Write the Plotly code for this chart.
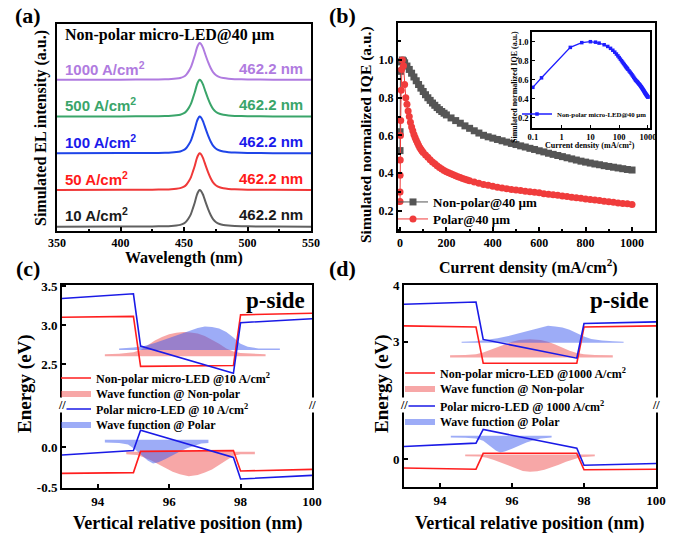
import plotly.graph_objects as go

W, H = 679, 535
SERIF = "Liberation Serif, Times New Roman, serif"
SANS = "Liberation Sans, Arial, sans-serif"

# ---------------- (a) simulated EL spectra ----------------
wavelength_nm = [350, 400, 425, 435, 440, 444, 447, 450, 452, 454, 455.5, 457, 458.5, 460, 461, 462.2,
                 463.5, 465, 467, 469, 471, 473, 475, 478, 481, 485, 490, 500, 520, 550]
el_intensity = [0.0, 0.004, 0.008, 0.013, 0.02, 0.033, 0.05, 0.09, 0.15, 0.25, 0.35, 0.5, 0.66, 0.85, 0.94,
                1.0, 0.97, 0.87, 0.67, 0.48, 0.32, 0.2, 0.13, 0.075, 0.048, 0.03, 0.018, 0.009, 0.003, 0.0]
el_current_labels = ["10 A/cm<sup>2</sup>", "50 A/cm<sup>2</sup>", "100 A/cm<sup>2</sup>",
                     "500 A/cm<sup>2</sup>", "1000 A/cm<sup>2</sup>"]
el_offsets = [0, 1, 2, 3, 4]
el_peak_labels = ["462.2 nm", "462.2 nm", "462.2 nm", "462.2 nm", "462.2 nm"]
el_line_colors = ["#606060", "#f03838", "#1f45e8", "#3aa56a", "#b07be0"]
el_text_colors = ["#1a1a1a", "#ff1a1a", "#1a1aeb", "#3aa56a", "#b07be0"]
wl_ticks = [350, 400, 450, 500, 550]

# ---------------- (b) normalized IQE ----------------
jd_nonpolar = [0.1, 0.2, 2, 5, 10, 15, 20, 30, 40, 50, 60, 70, 80, 90, 100, 110, 120, 130, 140, 150,
               160, 170, 180, 190, 200, 220, 240, 260, 280, 300, 320, 340, 360, 380, 400, 420, 440, 460,
               480, 500, 520, 540, 560, 580, 600, 620, 640, 660, 680, 700, 720, 740, 760, 780, 800, 820,
               840, 860, 880, 900, 920, 940, 960, 980, 1000]
iqe_nonpolar = [0.52, 0.62, 0.94, 0.99, 1.0, 0.995, 0.985, 0.968, 0.95, 0.93, 0.91, 0.89, 0.87, 0.851,
                0.833, 0.816, 0.80, 0.786, 0.772, 0.76, 0.748, 0.737, 0.727, 0.718, 0.709, 0.693, 0.679,
                0.665, 0.651, 0.638, 0.625, 0.613, 0.601, 0.593, 0.586, 0.579, 0.572, 0.565, 0.558, 0.552,
                0.545, 0.539, 0.532, 0.526, 0.519, 0.513, 0.506, 0.50, 0.494, 0.488, 0.482, 0.476, 0.47,
                0.464, 0.459, 0.454, 0.449, 0.445, 0.44, 0.436, 0.432, 0.428, 0.424, 0.42, 0.417]
jd_polar = [0.1, 0.2, 0.5, 1, 2, 3, 5, 7, 10, 15, 20, 25, 30, 35, 40, 45, 50, 55, 60, 65, 70, 75, 80,
            85, 90, 95, 100, 110, 120, 130, 140, 150, 160, 170, 180, 190, 200, 210, 220, 230, 240, 250,
            260, 270, 280, 290, 300, 320, 340, 360, 380, 400, 420, 440, 460, 480, 500, 520, 540, 560,
            580, 600, 620, 640, 660, 680, 700, 720, 740, 760, 780, 800, 820, 840, 860, 880, 900, 920,
            940, 960, 980, 1000]
iqe_polar = [0.25, 0.30, 0.39, 0.47, 0.60, 0.68, 0.84, 0.95, 1.0, 0.97, 0.87, 0.80, 0.765, 0.73, 0.70,
             0.67, 0.645, 0.625, 0.605, 0.59, 0.575, 0.561, 0.548, 0.537, 0.527, 0.518, 0.51, 0.497,
             0.485, 0.472, 0.46, 0.45, 0.44, 0.431, 0.422, 0.415, 0.408, 0.402, 0.397, 0.392, 0.387,
             0.382, 0.377, 0.372, 0.368, 0.364, 0.36, 0.353, 0.347, 0.341, 0.336, 0.331, 0.326, 0.322,
             0.318, 0.314, 0.311, 0.308, 0.305, 0.302, 0.299, 0.296, 0.292, 0.289, 0.286, 0.283, 0.28,
             0.277, 0.273, 0.27, 0.267, 0.264, 0.261, 0.258, 0.255, 0.252, 0.249, 0.246, 0.243, 0.24,
             0.238, 0.235]
jd_ticks = [0, 200, 400, 600, 800, 1000]
iqe_ticks = [0.2, 0.4, 0.6, 0.8, 1.0]
inset_jd_ticks = [0.1, 1, 10, 100, 1000]
inset_jd_ticktext = ["0.1", "1", "10", "100", "1000"]

# ---------------- (c)/(d) band diagrams ----------------
band_pos = [93, 95, 95.2, 97.8, 98, 100]
pos_ticks = [94, 96, 98, 100]
c_np_cb = [3.10, 3.11, 2.47, 2.48, 3.13, 3.15]
c_p_cb = [3.34, 3.40, 2.73, 2.38, 3.03, 3.08]
c_np_vb = [-0.33, -0.32, -0.055, -0.045, -0.30, -0.28]
c_p_vb = [-0.10, -0.045, 0.21, -0.13, -0.40, -0.355]
c_top_ticks = [2.5, 3.0, 3.5]
c_bot_ticks = [-0.5, 0.0]

d_np_cb = [3.28, 3.26, 2.62, 2.62, 3.26, 3.28]
d_p_cb = [3.66, 3.70, 3.04, 2.71, 3.32, 3.35]
d_np_vb = [-0.16, -0.18, 0.10, 0.10, -0.19, -0.18]
d_p_vb = [0.22, 0.28, 0.52, 0.19, -0.11, -0.08]
d_top_ticks = [3, 4]
d_bot_ticks = [0]

# wave functions (closed outlines)
c_np_wf_cb_x = [94.2, 94.2, 94.6, 95.0, 95.2, 95.4, 95.6, 95.8, 96.0, 96.2, 96.4, 96.6, 96.8, 97.0, 97.2,
                97.4, 97.6, 97.8, 98.0, 98.3, 98.7, 98.7]
c_np_wf_cb_y = [2.60, 2.625, 2.63, 2.65, 2.68, 2.74, 2.80, 2.845, 2.88, 2.90, 2.91, 2.905, 2.89, 2.86,
                2.815, 2.76, 2.70, 2.66, 2.64, 2.63, 2.625, 2.60]
c_p_wf_cb_x = [94.6, 94.6, 95.0, 95.3, 95.6, 95.9, 96.2, 96.5, 96.8, 97.0, 97.2, 97.4, 97.6, 97.8, 98.0,
               98.2, 98.5, 98.8, 99.1, 99.1]
c_p_wf_cb_y = [2.68, 2.70, 2.71, 2.73, 2.77, 2.82, 2.87, 2.92, 2.96, 2.98, 2.975, 2.955, 2.91, 2.84,
               2.76, 2.72, 2.70, 2.70, 2.70, 2.68]
c_np_wf_vb_x = [94.8, 94.8, 95.1, 95.3, 95.5, 95.7, 95.9, 96.1, 96.3, 96.55, 96.8, 97.0, 97.2, 97.4, 97.6,
                97.8, 98.0, 98.4, 98.4]
c_np_wf_vb_y = [-0.06, -0.09, -0.10, -0.13, -0.17, -0.22, -0.27, -0.31, -0.34, -0.365, -0.35, -0.32,
                -0.28, -0.22, -0.16, -0.11, -0.09, -0.09, -0.06]
c_p_wf_vb_x = [94.2, 94.2, 94.6, 94.85, 95.05, 95.25, 95.4, 95.55, 95.7, 95.9, 96.1, 96.3, 96.5, 96.7,
               96.9, 97.1, 97.1]
c_p_wf_vb_y = [0.09, 0.055, 0.05, 0.03, -0.03, -0.11, -0.17, -0.205, -0.19, -0.15, -0.10, -0.055,
               -0.015, 0.02, 0.045, 0.05, 0.09]

d_np_wf_cb_x = [94.28, 94.28, 94.7, 95.0, 95.2, 95.4, 95.6, 95.8, 96.0, 96.2, 96.5, 96.8, 97.0, 97.2,
                97.4, 97.6, 97.8, 98.0, 98.3, 98.8, 98.8]
d_np_wf_cb_y = [2.72, 2.76, 2.765, 2.78, 2.81, 2.86, 2.91, 2.96, 3.0, 3.03, 3.045, 3.03, 3.0, 2.95,
                2.89, 2.84, 2.80, 2.78, 2.765, 2.76, 2.72]
d_p_wf_cb_x = [94.6, 94.6, 95.0, 95.3, 95.6, 95.9, 96.2, 96.5, 96.8, 97.0, 97.2, 97.4, 97.6, 97.8, 98.0,
               98.2, 98.5, 98.8, 99.1, 99.1]
d_p_wf_cb_y = [2.98, 3.0, 3.01, 3.03, 3.06, 3.10, 3.15, 3.21, 3.26, 3.28, 3.27, 3.25, 3.21, 3.15, 3.09,
               3.05, 3.02, 3.01, 3.0, 2.98]
d_np_wf_vb_x = [94.7, 94.7, 95.1, 95.3, 95.5, 95.7, 95.9, 96.1, 96.3, 96.5, 96.7, 96.9, 97.1, 97.3,
                97.5, 97.7, 97.9, 98.3, 98.3]
d_np_wf_vb_y = [0.08, 0.05, 0.045, 0.02, -0.02, -0.07, -0.12, -0.17, -0.21, -0.225, -0.215, -0.19,
                -0.15, -0.10, -0.05, -0.01, 0.03, 0.05, 0.08]
d_p_wf_vb_x = [94.3, 94.3, 94.7, 95.0, 95.2, 95.4, 95.55, 95.67, 95.8, 96.0, 96.2, 96.4, 96.6, 96.8,
               97.1, 97.1]
d_p_wf_vb_y = [0.41, 0.38, 0.375, 0.36, 0.32, 0.22, 0.15, 0.115, 0.13, 0.18, 0.24, 0.29, 0.33, 0.36,
               0.38, 0.41]

RED = "#ff1e1e"
BLUE = "#1a1ae6"
PINK_FILL = "rgba(240,80,80,0.5)"
BLUE_FILL = "rgba(60,90,240,0.5)"


def px(x):
    return x / W


def py(y):
    return 1 - y / H


def bold(vals, fmt="{:g}"):
    return ["<b>" + (v if isinstance(v, str) else fmt.format(v)) + "</b>" for v in vals]


fig = go.Figure()

# ---- (a)
for off, col in zip(el_offsets, el_line_colors):
    fig.add_trace(go.Scatter(x=wavelength_nm, y=[off + v for v in el_intensity], mode="lines",
                             line=dict(color=col, width=2, shape="spline", smoothing=0.5),
                             xaxis="x", yaxis="y", showlegend=False, hoverinfo="skip"))

# ---- (b)
fig.add_trace(go.Scatter(x=jd_nonpolar, y=iqe_nonpolar, mode="lines+markers", name="Non-polar@40 µm",
                         line=dict(color="#555555", width=1),
                         marker=dict(symbol="square", size=7, color="#555555"),
                         xaxis="x2", yaxis="y2", legend="legend"))
fig.add_trace(go.Scatter(x=jd_polar, y=iqe_polar, mode="lines+markers", name="Polar@40 µm",
                         line=dict(color="#f03c3c", width=1),
                         marker=dict(symbol="circle", size=7, color="#f03c3c"),
                         xaxis="x2", yaxis="y2", legend="legend2"))
# inset
fig.add_trace(go.Scatter(x=jd_nonpolar, y=iqe_nonpolar, mode="lines+markers",
                         name="Non-polar micro-LED@40 µm",
                         line=dict(color="#1e1eff", width=1.3),
                         marker=dict(symbol="square", size=3.5, color="#1e1eff"),
                         xaxis="x3", yaxis="y3", legend="legend3"))


# ---- (c) & (d)
def band_panel(xb, ytop, ybot, np_cb, p_cb, np_vb, p_vb, wf, cur, legs):
    (npcx, npcy, pcx, pcy, npvx, npvy, pvx, pvy) = wf
    fig.add_trace(go.Scatter(x=npcx, y=npcy, mode="lines", fill="toself", fillcolor=PINK_FILL,
                             line=dict(width=0, color=PINK_FILL), name="Wave function @ Non-polar",
                             xaxis=xb[1], yaxis=ytop, legend=legs[1], hoverinfo="skip"))
    fig.add_trace(go.Scatter(x=npvx, y=npvy, mode="lines", fill="toself", fillcolor=PINK_FILL,
                             line=dict(width=0, color=PINK_FILL), showlegend=False,
                             xaxis=xb[0], yaxis=ybot, hoverinfo="skip"))
    fig.add_trace(go.Scatter(x=pcx, y=pcy, mode="lines", fill="toself", fillcolor=BLUE_FILL,
                             line=dict(width=0, color=BLUE_FILL), name="Wave function @ Polar",
                             xaxis=xb[1], yaxis=ytop, legend=legs[3], hoverinfo="skip"))
    fig.add_trace(go.Scatter(x=pvx, y=pvy, mode="lines", fill="toself", fillcolor=BLUE_FILL,
                             line=dict(width=0, color=BLUE_FILL), showlegend=False,
                             xaxis=xb[0], yaxis=ybot, hoverinfo="skip"))
    fig.add_trace(go.Scatter(x=band_pos, y=np_cb, mode="lines", line=dict(color=RED, width=1.6),
                             name="Non-polar micro-LED @" + cur + " A/cm<sup>2</sup>",
                             xaxis=xb[1], yaxis=ytop, legend=legs[0]))
    fig.add_trace(go.Scatter(x=band_pos, y=np_vb, mode="lines", line=dict(color=RED, width=1.6),
                             showlegend=False, xaxis=xb[0], yaxis=ybot))
    fig.add_trace(go.Scatter(x=band_pos, y=p_cb, mode="lines", line=dict(color=BLUE, width=1.6),
                             name="Polar micro-LED @ " + cur + " A/cm<sup>2</sup>",
                             xaxis=xb[1], yaxis=ytop, legend=legs[2]))
    fig.add_trace(go.Scatter(x=band_pos, y=p_vb, mode="lines", line=dict(color=BLUE, width=1.6),
                             showlegend=False, xaxis=xb[0], yaxis=ybot))


band_panel(("x4", "x5"), "y5", "y4", c_np_cb, c_p_cb, c_np_vb, c_p_vb,
           (c_np_wf_cb_x, c_np_wf_cb_y, c_p_wf_cb_x, c_p_wf_cb_y,
            c_np_wf_vb_x, c_np_wf_vb_y, c_p_wf_vb_x, c_p_wf_vb_y),
           "10", ("legend4", "legend5", "legend6", "legend7"))
band_panel(("x6", "x7"), "y7", "y6", d_np_cb, d_p_cb, d_np_vb, d_p_vb,
           (d_np_wf_cb_x, d_np_wf_cb_y, d_p_wf_cb_x, d_p_wf_cb_y,
            d_np_wf_vb_x, d_np_wf_vb_y, d_p_wf_vb_x, d_p_wf_vb_y),
           "1000", ("legend8", "legend9", "legend10", "legend11"))

# ---------------- axes ----------------
TF = dict(family=SERIF, size=12, color="black")
TF13 = dict(family=SERIF, size=13, color="black")
TF_IN = dict(family=SERIF, size=8.5, color="black")
base_ax = dict(showline=True, linecolor="black", linewidth=2, showgrid=False, zeroline=False,
               ticks="inside", ticklen=4, tickwidth=1.5, tickcolor="black", tickmode="array")

layout = dict(
    width=W, height=H, margin=dict(l=0, r=0, t=0, b=0, autoexpand=False),
    paper_bgcolor="white", plot_bgcolor="white", hovermode=False,
    # (a)
    xaxis=dict(base_ax, domain=[px(57), px(311)], anchor="y", range=[350, 550],
               tickvals=wl_ticks, ticktext=bold(wl_ticks), mirror=True, tickfont=TF,
               minor=dict(ticks="inside", ticklen=2.5, dtick=25, tickcolor="black")),
    yaxis=dict(base_ax, domain=[py(231), py(24)], anchor="x", range=[-0.117, 5.52], mirror=True,
               ticks="", showticklabels=False),
    # (b)
    xaxis2=dict(base_ax, domain=[px(398), px(655)], anchor="y2", range=[-8.6, 1099],
                tickvals=jd_ticks, ticktext=bold(jd_ticks), mirror=True, tickfont=TF,
                minor=dict(ticks="inside", ticklen=2.5, dtick=100, tickcolor="black")),
    yaxis2=dict(base_ax, domain=[py(231), py(23)], anchor="x2", range=[0.094, 1.196],
                tickvals=iqe_ticks, ticktext=bold(iqe_ticks, "{:.1f}"), mirror=True, tickfont=TF,
                minor=dict(ticks="inside", ticklen=2.5, dtick=0.1, tickcolor="black")),
    # inset
    xaxis3=dict(base_ax, domain=[px(532), px(650)], anchor="y3", type="log", range=[-1.03, 3.07],
                tickvals=inset_jd_ticks, ticktext=bold(inset_jd_ticktext),
                mirror=True, linewidth=1.5, ticklen=3, tickwidth=1, tickfont=TF_IN),
    yaxis3=dict(base_ax, domain=[py(128), py(32)], anchor="x3", range=[0.092, 1.102],
                tickvals=iqe_ticks, ticktext=bold(iqe_ticks, "{:.1f}"), mirror=True, linewidth=1.5,
                ticklen=3, tickwidth=1, tickfont=TF_IN),
    # (c) bottom / top
    xaxis4=dict(base_ax, domain=[px(62), px(312)], anchor="y4", range=[93, 100],
                tickvals=pos_ticks, ticktext=bold(pos_ticks), tickfont=TF13),
    yaxis4=dict(base_ax, domain=[py(488), py(405)], anchor="x4", range=[-0.5125, 0.525],
                tickvals=c_bot_ticks, ticktext=bold(c_bot_ticks, "{:.1f}"), mirror=True,
                tickfont=TF13),
    xaxis5=dict(base_ax, domain=[px(62), px(312)], anchor="y5", range=[93, 100], side="top",
                ticks="", showticklabels=False),
    yaxis5=dict(base_ax, domain=[py(405), py(285)], anchor="x5", range=[1.974, 3.513],
                tickvals=c_top_ticks, ticktext=bold(c_top_ticks, "{:.1f}"), mirror=True,
                tickfont=TF13),
    # (d)
    xaxis6=dict(base_ax, domain=[px(404), px(656)], anchor="y6", range=[93, 100],
                tickvals=pos_ticks, ticktext=bold(pos_ticks), tickfont=TF13),
    yaxis6=dict(base_ax, domain=[py(487), py(405)], anchor="x6", range=[-0.494, 0.952],
                tickvals=d_bot_ticks, ticktext=bold(d_bot_ticks), tickfont=TF13, mirror=True),
    xaxis7=dict(base_ax, domain=[px(404), px(656)], anchor="y7", range=[93, 100], side="top",
                ticks="", showticklabels=False),
    yaxis7=dict(base_ax, domain=[py(405), py(285)], anchor="x7", range=[1.884, 4.0],
                tickvals=d_top_ticks, ticktext=bold(d_top_ticks), tickfont=TF13, mirror=True),
)


def leg(xl, yc, size):
    return dict(x=px(xl), y=py(yc), xanchor="left", yanchor="middle", bgcolor="rgba(0,0,0,0)",
                borderwidth=0, tracegroupgap=0,
                font=dict(family=SERIF, size=size, color="black", weight="bold"))


layout["legend"] = leg(393, 202, 13)
layout["legend2"] = leg(393, 219, 13)
layout["legend3"] = leg(517, 114, 6.8)
for i, yc in enumerate([378, 393, 409, 424]):
    layout["legend%d" % (4 + i)] = leg(56, yc, 12)
for i, yc in enumerate([373, 388, 406, 421]):
    layout["legend%d" % (8 + i)] = leg(400, yc, 12)

fig.update_layout(**layout)

annotations = []


def ann(text, x, y, size, family=SERIF, color="black", xanchor="center", angle=0, **kw):
    d = dict(text=text, x=px(x), y=py(y), xref="paper", yref="paper", showarrow=False,
             xanchor=xanchor, yanchor="middle", textangle=angle,
             font=dict(family=family, size=size, color=color))
    d.update(kw)
    annotations.append(d)


# panel letters
ann("<b>(a)</b>", 28, 15, 22)
ann("<b>(b)</b>", 342, 15, 22)
ann("<b>(c)</b>", 28, 268, 22)
ann("<b>(d)</b>", 342, 268, 22)

# (a) labels
annotations.append(dict(text="<b>Non-polar micro-LED@40 µm</b>", x=355, y=5.22, xref="x", yref="y",
                        showarrow=False, xanchor="left", yanchor="middle",
                        font=dict(family=SERIF, size=16, color="black")))
for off, lab, pk, col in zip(el_offsets, el_current_labels, el_peak_labels, el_text_colors):
    annotations.append(dict(text="<b>" + lab + "</b>", x=355, y=off + 0.32, xref="x", yref="y",
                            showarrow=False, xanchor="left", yanchor="middle",
                            font=dict(family=SANS, size=15, color=col)))
    annotations.append(dict(text="<b>" + pk + "</b>", x=545, y=off + 0.32, xref="x", yref="y",
                            showarrow=False, xanchor="right", yanchor="middle",
                            font=dict(family=SANS, size=15, color=col)))

# axis titles
ann("<b>Wavelength (nm)</b>", 184, 258, 16)
ann("<b>Simulated EL intensity (a.u.)</b>", 41, 128, 16, angle=-90)
ann("<b>Current density (mA/cm<sup>2</sup>)</b>", 528, 266, 16)
ann("<b>Simulated normalized IQE (a.u.)</b>", 366, 135, 15.5, angle=-90)
ann("<b>Current density (mA/cm<sup>2</sup>)</b>", 590, 145, 8)
ann("<b>Simulated normalized IQE (a.u.)</b>", 515, 87, 8, angle=-90)
ann("<b>Vertical relative position (nm)</b>", 187, 523, 18)
ann("<b>Energy (eV)</b>", 25, 384, 19, angle=-90)
ann("<b>Vertical relative position (nm)</b>", 529, 523, 18)
ann("<b>Energy (eV)</b>", 382, 384, 19, angle=-90)
ann("<b>p-side</b>", 275, 300, 23)
ann("<b>p-side</b>", 619, 300, 23)

# axis-break marks
for xb in (62, 312, 404, 656):
    ann("<b>//</b>", xb, 405, 12, bgcolor="white", borderpad=0)

fig.update_layout(annotations=annotations)

fig.write_html("out.html", config={"displayModeBar": False},
               post_script="document.body.style.margin='0px';")
